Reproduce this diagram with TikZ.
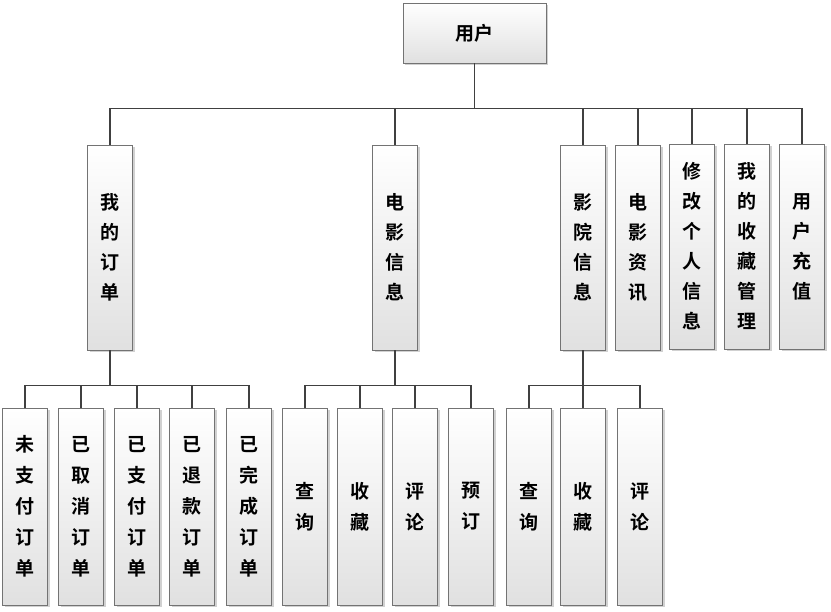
\documentclass[tikz,border=0pt]{standalone}
\usepackage{fontspec}
\usetikzlibrary{shadows}
\setmainfont{Noto Sans CJK SC}[BoldFont={Noto Sans CJK SC Bold}]
\begin{document}
\begin{tikzpicture}[x=1pt,y=-1pt,
 box/.style={draw=black!55,line width=0.8pt,top color=white,bottom color=black!12,
   minimum width=45pt,minimum height=205pt,align=center,font=\bfseries\fontsize{19}{30}\selectfont,
   drop shadow={shadow xshift=2pt,shadow yshift=-2pt,fill=black!30,opacity=0.6}},
 sbox/.style={box,minimum height=197pt,font=\bfseries\fontsize{19}{31}\selectfont},
 ln/.style={draw=black!75,line width=1.2pt}]
\useasboundingbox (0,0) rectangle (831,612);
\node[box,minimum width=143pt,minimum height=60pt] (u) at (474.5,33) {用户};
\node[box] (a) at (110,247.5) {我\\的\\订\\单};
\node[box] (b) at (395,247.5) {电\\影\\信\\息};
\node[box] (c) at (583,247.5) {影\\院\\信\\息};
\node[box] (d) at (638,247.5) {电\\影\\资\\讯};
\node[box] (e) at (692,246.5) {修\\改\\个\\人\\信\\息};
\node[box] (f) at (747,246.5) {我\\的\\收\\藏\\管\\理};
\node[box] (g) at (802,246.5) {用\\户\\充\\值};
\foreach \n/\x/\t in {a1/25/未\\支\\付\\订\\单,a2/81/已\\取\\消\\订\\单,a3/137/已\\支\\付\\订\\单,a4/192/已\\退\\款\\订\\单,a5/249/已\\完\\成\\订\\单,
  b1/305/查\\询,b2/360/收\\藏,b3/415/评\\论,b4/471/预\\订,c1/529/查\\询,c2/583/收\\藏,c3/640/评\\论}
  \node[sbox] (\n) at (\x,506.5) {\t};
\draw[ln] (u.south) -- ++(0,45) coordinate (m);
\draw[ln] (a.north) |- (m) -| (g.north);
\foreach \n in {b,c,d,e,f} \draw[ln] (\n.north) -- (\n.north |- m);
\draw[ln] (a.south) -- ++(0,35) coordinate (ma);
\draw[ln] (a1.north) |- (ma) -| (a5.north);
\foreach \n in {a2,a3,a4} \draw[ln] (\n.north) -- (\n.north |- ma);
\draw[ln] (b.south) -- ++(0,35) coordinate (mb);
\draw[ln] (b1.north) |- (mb) -| (b4.north);
\foreach \n in {b2,b3} \draw[ln] (\n.north) -- (\n.north |- mb);
\draw[ln] (c.south) -- ++(0,35) coordinate (mc);
\draw[ln] (c1.north) |- (mc) -| (c3.north);
\draw[ln] (c2.north) -- (mc);
\end{tikzpicture}
\end{document}
